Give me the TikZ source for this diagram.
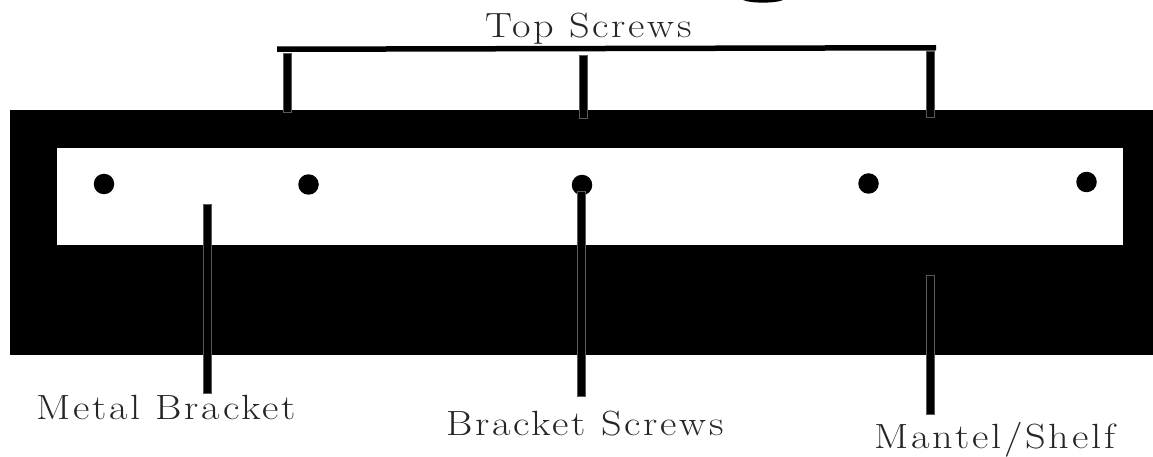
\documentclass[tikz,border=0pt]{standalone}
\usepackage{fontspec}
\newfontfamily\lblfont[FakeStretch=1.15,LetterSpace=8]{Latin Modern Roman}
\definecolor{edgegrey}{gray}{0.35}
\tikzset{
  x=1pt,y=-1pt,
  lbl/.style={inner sep=0pt,font=\lblfont\fontsize{35}{35}\selectfont,text=black!85,anchor=base},
  hole/.style={circle,fill=black,inner sep=0pt,minimum size=20.5pt},
  leader/.style={fill=black,draw=edgegrey,line width=0.5pt},
}
\begin{document}
\begin{tikzpicture}
\useasboundingbox (0,0) rectangle (1153,457);
% mantel and bracket
\fill[black] (10,110) rectangle (1153,355);
\fill[white] (57,148) rectangle (1123,245);
% fragment of the cut-off title
\fill[black] (743,0) .. controls (750,3.5) and (776,3.5) .. (783,0) -- cycle;
% screw holes
\node[hole] (h1) at (104,184) {};
\node[hole] (h2) at (308.5,184.5) {};
\node[hole] (h3) at (582,185) {};
\node[hole] (h4) at (868.5,183.5) {};
\node[hole] (h5) at (1086.5,182) {};
% labels
\node[lbl] (top) at (589,37.5) {Top Screws};
\node[lbl] (metal) at (166,419.5) {Metal Bracket};
\node[lbl] (screws) at (585,435) {Bracket Screws};
\node[lbl] (mantel) at (995,448) {Mantel/Shelf};
% top brace
\fill[black] (277,46.5) -- (936,45) -- (936,50.5) -- (277,52) -- cycle;
% top leaders
\filldraw[leader] (283,53) rectangle (291.5,112);
\filldraw[leader] (579,55) rectangle (587,118);
\filldraw[leader] (926,51) rectangle (934.5,117);
% lower leaders
\filldraw[leader] (203.5,204) rectangle (211.5,393);
\filldraw[leader] (577,191) rectangle (585,396);
\filldraw[leader] (926,275.5) rectangle (934.5,414.5);
\end{tikzpicture}
\end{document}
